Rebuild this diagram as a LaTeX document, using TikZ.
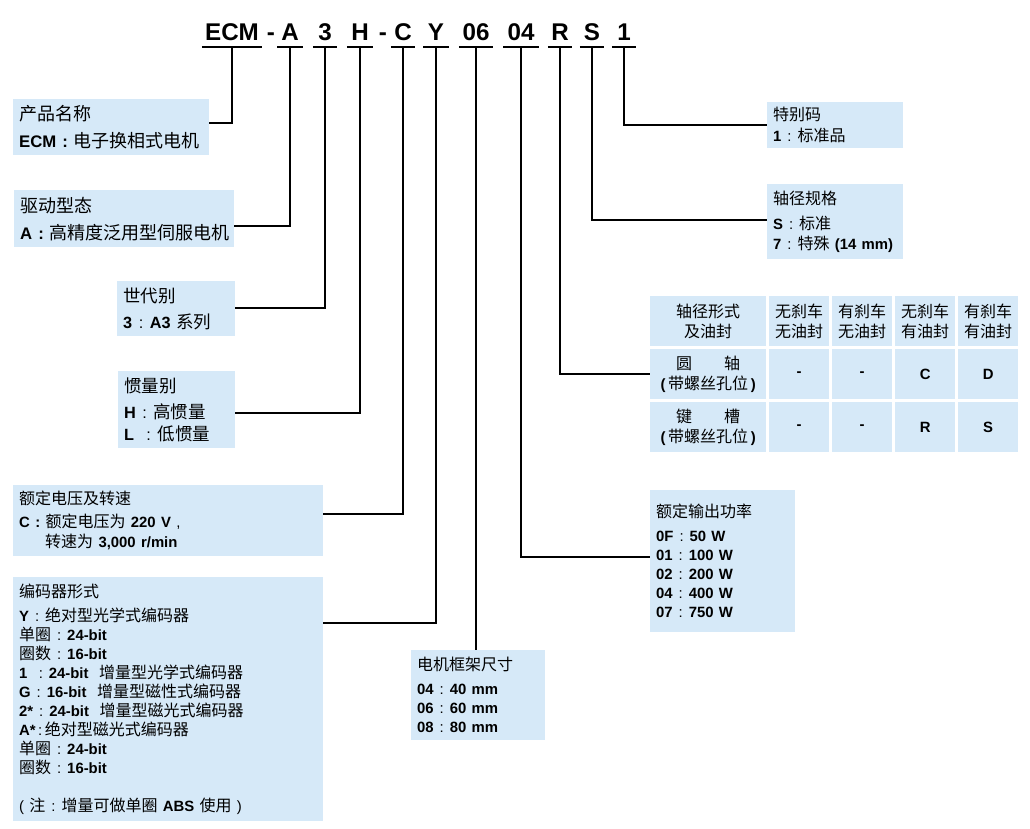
\documentclass[tikz,border=0pt]{standalone}
\usepackage{fontspec}
\setmainfont{Noto Sans CJK SC}
\newfontfamily\latfont{Liberation Sans}[Scale=0.93]
\usetikzlibrary{matrix}
\definecolor{boxblue}{RGB}{214,233,248}
\newcommand\latb[1]{{\latfont\bfseries #1}}
\newcommand\csep{{\latfont\hspace{0.4em}:\hspace{0.4em}}}
\tikzset{
  leader/.style={line width=1.8pt},
  codepart/.style={font=\latfont\bfseries\fontsize{26}{30}\selectfont, inner sep=0pt, text depth=7pt, minimum width=#1, anchor=base},
  infobox/.style 2 args={fill=boxblue, anchor=north west, inner xsep=6pt, inner ysep=0pt, align=left, text width=#1, minimum height=#2, font=\fontsize{16}{19}\selectfont},
  cell/.style={fill=boxblue, align=center, text width=54pt, minimum height=50pt, inner xsep=3pt, inner ysep=0pt, anchor=center, font=\fontsize{16}{20}\selectfont}
}
\begin{document}
\begin{tikzpicture}[x=1pt,y=-1pt]
  \useasboundingbox (0,0) rectangle (1030,828);
  \foreach \nm/\txt/\x/\w in {ecm/ECM/232/60, a/A/290/25, 3/3/325/24, h/H/360/26, c/C/403/24, y/Y/436/25, 06/06/476/34, 04/04/521/35, r/R/560/24, s/S/592/24, 1/1/624/24}{
    \node[codepart=\w] (c\nm) at (\x,40) {\txt};
    \draw[leader] (c\nm.south west) -- (c\nm.south east);
  }
  \node[codepart=8] (dash1) at (271,40) {-};
  \node[codepart=8] (dash2) at (383,40) {-};

  \node[infobox={184pt}{56pt}, font=\fontsize{18}{19}\selectfont] (prod) at (13,99) {产品名称\\[8pt]\latb{ECM~:}~电子换相式电机};
  \node[infobox={208pt}{57pt}, font=\fontsize{18}{19}\selectfont] (drive) at (14,190) {驱动型态\\[8pt]\latb{A~:}~高精度泛用型伺服电机};
  \node[infobox={106pt}{55pt}, font=\fontsize{17.5}{19}\selectfont] (gen) at (117,281) {世代别\\[7pt]\latb{3}\csep\latb{A3}~系列};
  \node[infobox={105pt}{77pt}, font=\fontsize{17.5}{19}\selectfont] (inertia) at (118,371) {惯量别\\[7pt]\latb{H}\csep 高惯量\\[3pt]\latb{L\ }\csep 低惯量};
  \node[infobox={298pt}{71pt}] (volt) at (13,485) {额定电压及转速\\[4pt]\latb{C~:}~额定电压为~\latb{220~V}~{\latfont ,}\\[1pt]\hspace*{26pt}转速为~\latb{3,000~r/min}};
  \node[infobox={298pt}{244pt}] (enc) at (13,577) {编码器形式\\[5pt]
    \latb{Y}\csep 绝对型光学式编码器\\
    单圈\csep\latb{24-bit}\\
    圈数\csep\latb{16-bit}\\
    \latb{1\ }\csep\latb{24-bit}\ \ 增量型光学式编码器\\
    \latb{G}\csep\latb{16-bit}\ \ 增量型磁性式编码器\\
    \latb{2*}\csep\latb{24-bit}\ \ 增量型磁光式编码器\\
    \latb{A*}{\latfont\,:\,}绝对型磁光式编码器\\
    单圈\csep\latb{24-bit}\\
    圈数\csep\latb{16-bit}\\[19pt]
    {\latfont(\ }注\csep 增量可做单圈~\latb{ABS}~使用{\latfont\ )}};
  \node[infobox={122pt}{90pt}] (frame) at (411,650) {电机框架尺寸\\[5pt]\latb{04}\csep\latb{40 mm}\\\latb{06}\csep\latb{60 mm}\\\latb{08}\csep\latb{80 mm}};
  \node[infobox={133pt}{142pt}] (power) at (650,490) {额定输出功率\\[5pt]\latb{0F}\csep\latb{50 W}\\\latb{01}\csep\latb{100 W}\\\latb{02}\csep\latb{200 W}\\\latb{04}\csep\latb{400 W}\\\latb{07}\csep\latb{750 W}};
  \node[infobox={124pt}{46pt}] (spec) at (767,102) {特别码\\[2pt]\latb{1}\csep 标准品};
  \node[infobox={124pt}{75pt}] (shaft) at (767,184) {轴径规格\\[6pt]\latb{S}\csep 标准\\[1pt]\latb{7}\csep 特殊~\latb{(14~mm)}};

  \matrix (tbl) [matrix of nodes, anchor=north west, inner sep=0pt, column sep=3pt, row sep=3pt, nodes={cell}, column 1/.style={nodes={text width=110pt}}] at (650,296) {
    {轴径形式\\及油封} & {无刹车\\无油封} & {有刹车\\无油封} & {无刹车\\有油封} & {有刹车\\有油封} \\
    {圆\hspace{2em}轴\\\latb{(}\,带螺丝孔位\,\latb{)}} & \latb{-} & \latb{-} & \latb{C} & \latb{D} \\
    {键\hspace{2em}槽\\\latb{(}\,带螺丝孔位\,\latb{)}} & \latb{-} & \latb{-} & \latb{R} & \latb{S} \\
  };

  \foreach \cd/\bx/\y in {ecm/prod/123, a/drive/226, 3/gen/308, h/inertia/413, c/volt/514, y/enc/623}
    \draw[leader] (c\cd.south) |- (\bx.east |- 0,\y);
  \foreach \cd/\bx/\y in {1/spec/125, s/shaft/220, 04/power/557}
    \draw[leader] (c\cd.south) |- (\bx.west |- 0,\y);
  \draw[leader] (cr.south) |- (tbl-2-1.west);
  \draw[leader] (c06.south) -- (frame.north -| c06.south);
\end{tikzpicture}
\end{document}
